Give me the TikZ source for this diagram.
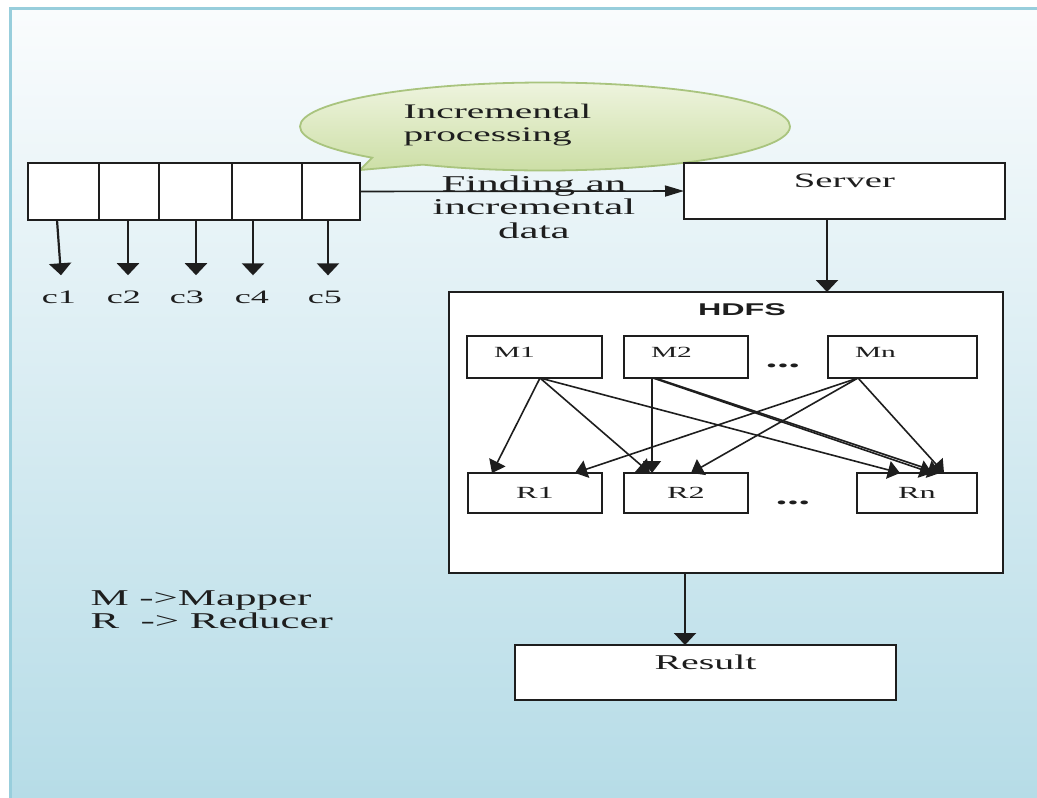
\documentclass[tikz,border=0pt]{standalone}
\usepackage{fontspec}
\setmainfont{Liberation Serif}[FakeStretch=1.9]
\newfontfamily\hdfsfont{Liberation Sans}[FakeStretch=1.9]
\usetikzlibrary{arrows.meta,shapes.callouts}
\definecolor{bgtop}{HTML}{FAFCFD}
\definecolor{bgmid}{HTML}{DDEEF3}
\definecolor{bgbot}{HTML}{B6DCE7}
\definecolor{framecol}{HTML}{98CEDC}
\definecolor{bubtop}{HTML}{EEF4DE}
\definecolor{bubbot}{HTML}{CADDA2}
\definecolor{bubline}{HTML}{A9C47E}
\definecolor{ink}{HTML}{1E1E1E}
\begin{document}
\begin{tikzpicture}[x=1pt,y=-1pt,
  every node/.append style={text=ink},
  box/.style={draw=ink,line width=2.4pt,fill=white,inner sep=0pt,outer sep=0pt},
  cellbox/.style={box,minimum height=57pt},
  mbox/.style={box,line width=2pt,minimum height=42pt,inner xsep=27pt,align=left,
    text height=10.5pt,text depth=10.5pt,font=\fontsize{15.5}{18}\selectfont},
  rbox/.style={box,line width=2pt,minimum height=40pt,font=\fontsize{17}{20}\selectfont},
  clabel/.style={inner xsep=0pt,inner ysep=15pt,font=\fontsize{19}{22}\selectfont},
  dots/.style={font=\bfseries\fontsize{24}{24}\selectfont},
  varr/.style={draw=ink,line width=2.2pt,-{Triangle[width=22pt,length=12pt]}},
  harr/.style={draw=ink,line width=1.6pt,-{Triangle[width=11pt,length=19pt]}},
  marr/.style={draw=ink,line width=1.6pt,-{Triangle[width=18pt,length=12pt]}}]
\useasboundingbox (0,0) rectangle (1037,798);
% background
\fill[white] (0,0) rectangle (1037,798);
\shade[top color=bgtop,middle color=bgmid,bottom color=bgbot] (10,8) rectangle (1037,798);
\draw[framecol,line width=3pt] (10,798) -- (10,8) -- (1037,8);
% callout
\node[ellipse callout,draw=bubline,line width=1.8pt,top color=bubtop,bottom color=bubbot,
  minimum width=490pt,minimum height=88pt,inner sep=0pt,
  callout absolute pointer={(360,170)}] (bubble) at (545,126.5) {};
\node[anchor=base west,align=left,font=\fontsize{20.7}{23}\selectfont] (proc) at (400,141) {Incremental\\processing};
% data cells
\node[cellbox,minimum width=71pt] (cell1) at (63.5,191.5) {};
\node[cellbox,minimum width=60pt] (cell2) at (129,191.5) {};
\node[cellbox,minimum width=73pt] (cell3) at (195.5,191.5) {};
\node[cellbox,minimum width=70pt] (cell4) at (267,191.5) {};
\node[cellbox,minimum width=58pt] (cell5) at (331,191.5) {};
\node[clabel,anchor=base] (lc1) at (59,303) {c1};
\node[clabel,anchor=base] (lc2) at (124,303) {c2};
\node[clabel,anchor=base] (lc3) at (187,303) {c3};
\node[clabel,anchor=base] (lc4) at (252,303) {c4};
\node[clabel,anchor=base] (lc5) at (325,303) {c5};
\draw[varr] ([xshift=-6.5pt]cell1.south) -- ([xshift=2pt]lc1.north);
\draw[varr] ([xshift=-1pt]cell2.south) -- ([xshift=4pt]lc2.north);
\draw[varr] ([xshift=0.5pt]cell3.south) -- ([xshift=9pt]lc3.north);
\draw[varr] ([xshift=-14pt]cell4.south) -- ([xshift=1pt]lc4.north);
\draw[varr] ([xshift=-3pt]cell5.south) -- ([xshift=3pt]lc5.north);
% server
\node[box,minimum width=321pt,minimum height=56pt,text height=15pt,text depth=22pt,
  font=\fontsize{20.4}{24}\selectfont] (server) at (844.5,191) {Server};
\draw[harr] (cell5.east) -- (server.west);
\node[anchor=base,align=center,font=\fontsize{22.6}{23.5}\selectfont] (find) at (534,238) {Finding an\\incremental\\data};
% HDFS
\node[box,minimum width=554pt,minimum height=281pt] (hdfs) at (726,432.5) {};
\node[anchor=base,font=\hdfsfont\bfseries\fontsize{17}{20}\selectfont] (hdfslbl) at (742,315) {HDFS};
\draw[varr] ([xshift=-17.5pt]server.south) -- ([xshift=-17.5pt]server.south |- hdfs.north);
\node[mbox,text width=81pt] (m1) at (534.5,357) {M1};
\node[mbox,text width=70pt] (m2) at (686,357) {M2};
\node[mbox,text width=95pt] (mn) at (902.5,357) {Mn};
\node[dots] (mdots) at (783,366) {...};
\node[rbox,minimum width=134pt] (r1) at (535,493) {R1};
\node[rbox,minimum width=124pt] (r2) at (686,493) {R2};
\node[rbox,minimum width=120pt] (rn) at (917,493) {Rn};
\node[dots] (rdots) at (793,503) {...};
\draw[marr] ([xshift=5.5pt]m1.south) -- ([xshift=-43pt]r1.north);
\draw[marr] ([xshift=5.5pt]m1.south) -- ([xshift=-36pt]r2.north);
\draw[marr] ([xshift=5.5pt]m1.south) -- ([xshift=-17pt]rn.north);
\draw[marr] ([xshift=-34pt]m2.south) -- ([xshift=-34pt]r2.north);
\draw[marr] ([xshift=-33pt]m2.south) -- ([xshift=15pt]rn.north);
\draw[marr] ([xshift=-31pt]m2.south) -- ([xshift=23pt]rn.north);
\draw[marr] ([xshift=-44.5pt]mn.south) -- ([xshift=40pt]r1.north);
\draw[marr] ([xshift=-44.5pt]mn.south) -- ([xshift=5pt]r2.north);
\draw[marr] ([xshift=-44.5pt]mn.south) -- ([xshift=27pt]rn.north);
% result
\node[box,minimum width=381pt,minimum height=55pt,text height=15pt,text depth=22pt,
  font=\fontsize{21}{24}\selectfont] (result) at (705.5,672.5) {Result};
\draw[varr] ([xshift=-20.5pt]result.north |- hdfs.south) -- ([xshift=-20.5pt]result.north);
% legend
\node[anchor=base west,align=left,font=\fontsize{22.6}{23}\selectfont] (legend) at (87,628) {M ->Mapper\\R\ \ -> Reducer};
\end{tikzpicture}
\end{document}
